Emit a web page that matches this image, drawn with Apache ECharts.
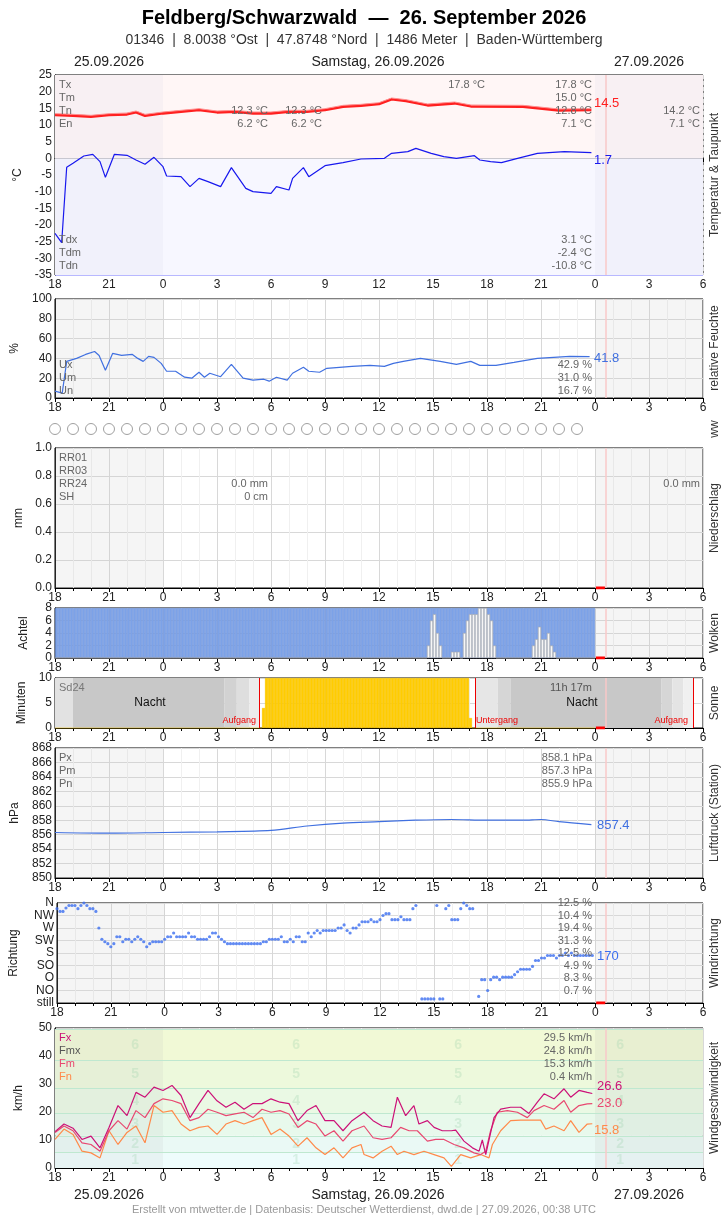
<!DOCTYPE html>
<html><head><meta charset="utf-8">
<script src="https://cdn.jsdelivr.net/npm/echarts@6/dist/echarts.min.js"></script>
<style>html,body{margin:0;padding:0;background:#fff}#c{width:728px;height:1218px}</style>
</head><body><div id="c"></div>
<script>
// ---- data (t = hours since 25.09. 18:00) ----
const hourLabels = ['18','21','0','3','6','9','12','15','18','21','0','3','6'];
const tempT = [[0,13],[1,12.8],[2,12.5],[3,13],[4,13.2],[4.5,13.8],[5,12.8],[6,13.5],[7,14],[8,14.5],[9,13.8],[10,14],[11,13.5],[12,13.5],[13,14],[14,14],[15,14.5],[16,15.5],[17,15.8],[18,16.3],[18.7,17.7],[19.5,17.2],[20.7,15.9],[22.2,16.5],[23.1,15.6],[26,15.5],[28,14.4],[29.8,14.5]];
const dewT = [[0,-22.5],[0.37,-25.3],[0.65,-2.7],[1,-1.5],[1.6,0.7],[2.1,1.2],[2.5,-1],[2.8,-5.7],[3.3,1.2],[4,0.9],[4.5,-0.5],[5,-1.8],[5.5,0.3],[6,-2.5],[6.2,-5.3],[7,-5.5],[7.5,-8.5],[8,-6],[8.5,-7],[9.2,-8.5],[9.8,-2.8],[10.6,-9],[11,-10],[12,-10.5],[12.3,-8.5],[13,-9.5],[13.2,-6],[13.8,-2.8],[14.1,-5.5],[15,-2.2],[16,-1.3],[17,-0.2],[18.3,0],[18.7,1.5],[19.6,2],[20.05,3],[20.9,1.5],[21.6,0.5],[22.3,0],[23.3,0.8],[23.6,-0.5],[24.2,-1],[24.8,-1.3],[25.7,0],[26.8,1.5],[28.3,2],[29.8,1.7]];
const humT = [[0,7],[0.4,5],[0.65,37],[1.2,40],[1.7,44],[2.2,47],[2.45,43],[2.8,28],[3.2,45],[3.7,43],[4.3,44],[4.6,40],[4.9,37],[5.2,42],[5.5,41],[5.9,35],[6.2,27],[6.7,27],[7.2,21],[7.6,20],[8,26],[8.3,21],[8.6,25],[9.2,21.5],[9.8,34],[10.45,20],[11,18],[11.6,19],[11.9,17],[12.3,21],[12.9,18],[13.2,25],[13.8,31],[14.1,27],[14.7,26],[15.1,30],[16.5,32],[17.5,33],[18.3,32],[18.8,35],[19.35,37],[20.3,40],[21.4,37],[22.3,34],[23.1,37],[23.6,33],[24.5,33],[25.5,36],[26.8,40],[28.6,42],[29.7,41.8]];
const presT = [[0,856.3],[3,856.2],[6,856.3],[9,856.4],[12,856.6],[14,857.2],[16,857.6],[18,857.8],[20,858.0],[22,858.1],[24,858.0],[26,858.0],[27,858.1],[28,857.8],[29.8,857.4]];
// clouds: 10-min slots where the white part is below 8 eighths [slot, value]
const cloudWhite = [[124,2],[125,6],[126,7],[127,4],[128,2],[132,1],[133,1],[134,1],[136,4],[137,6],[138,7],[139,7],[140,7],[141,8],[142,8],[143,8],[144,7],[145,6],[146,2],[159,2],[160,3],[161,5],[162,3],[163,3],[164,4],[165,2],[166,1]];
const cloudSlots = 180;
// sunshine minutes per 10-min slot: [firstSlot, count, minutes]
const sunRuns = [[69,1,4],[70,68,10],[138,1,2]];
// wind direction in sectors (N=8, NW=7 ... NO=1, still=0), 10-min slots
const dirVals = [7.55,7.33,7.33,7.6,7.8,7.8,7.8,7.55,7.8,8,7.8,7.55,7.55,7.33,
6,5.1,4.9,4.75,4.5,4.75,5.3,5.3,4.9,5.1,5.1,4.9,5.1,5.3,5.1,4.9,4.5,4.75,4.9,4.9,4.9,4.9,5.1,5.3,5.3,5.6,5.3,5.3,5.3,5.3,5.6,5.3,5.3,5.1,5.1,5.1,5.1,5.3,5.6,5.6,5.3,5.1,4.9,4.75,
4.75,4.75,4.75,4.75,4.75,4.75,4.75,4.75,4.75,4.75,4.75,4.9,4.9,5.1,5.1,5.1,5.1,5.3,4.9,4.9,5.1,4.9,5.3,5.3,4.9,4.9,5.6,5.3,5.6,5.8,5.6,5.8,5.8,5.8,5.8,5.8,6,6,6.25,5.8,5.6,6,6,6.25,6.5,6.5,6.5,6.67,6.5,6.5,6.67,7,7.15,7.15,6.67,6.67,6.67,6.9,6.67,6.67,6.67,7.55,7.8,
null,0.33,0.33,0.33,0.33,0.33,7.8,0.33,0.33,7.55,7.8,6.67,6.67,6.67,7.55,8,7.8,7.55,7.55,null,0.53,1.87,1.87,1.0,1.87,2.07,2.07,1.87,2.07,2.07,2.07,2.07,2.27,2.5,2.7,2.7,2.7,2.7,2.93,3.4,3.4,3.6,3.6,3.8,3.8,3.8,3.6,3.8,3.8,4,3.8,4,3.8,3.8,3.8,3.8,3.8,3.8,3.8];
const dirLabels = ['still','NO','O','SO','S','SW','W','NW','N'];
const fxT = [[0,13],[0.5,15.7],[1,14.2],[1.5,10.2],[2,11.4],[2.5,7.2],[3,14.5],[3.5,22.3],[4,18.7],[4.5,27],[5,25.3],[5.5,28.9],[6,27.7],[6.5,29.5],[7,25.9],[7.5,18],[8,23],[8.5,27.7],[9,24],[9.5,21.7],[10,23.5],[10.5,21],[11,23],[11.5,23],[12,24.7],[12.5,23.5],[13,23],[13.5,16.9],[14,20.5],[14.5,22.3],[15,16.9],[15.5,16.9],[16,13.3],[16.5,16.9],[17.17,19.9],[17.67,16.9],[18.17,15],[18.67,14.5],[19.02,25.3],[19.48,18.7],[19.94,22.3],[20.22,15.7],[20.69,16.9],[21.06,14.5],[21.52,13.3],[22.02,13.3],[22.26,13.5],[22.72,9.6],[23.19,7.2],[23.56,6],[23.74,10],[23.93,4.8],[24.11,10],[24.39,18],[24.76,21],[25.31,21.7],[25.87,21.7],[26.33,19.5],[26.8,23.5],[27.17,26.5],[27.72,24.7],[28.28,28.3],[28.65,25.3],[29.11,27.7],[29.57,27],[29.85,26.6]];
const fmT = [[0,12.7],[0.5,15],[1,13.3],[1.5,9],[2,8.4],[2.5,6],[3,13.3],[3.5,16.9],[4,13.9],[4.5,20.5],[5,18],[5.5,23],[6,24.7],[6.5,24.1],[7,23],[7.5,16.9],[8,18],[8.5,21],[9,19.9],[9.5,18.7],[10,19.3],[10.5,19.9],[11,18],[11.5,21],[12,19.9],[12.5,20.5],[13,19.3],[13.5,14.5],[14,16.9],[14.5,15.7],[15,11.4],[15.5,13.3],[16,9.6],[16.5,13.3],[17.17,15],[17.67,10.8],[18.17,10.2],[18.67,10.8],[19.2,14.5],[19.67,13.3],[20.13,13.3],[20.69,9.6],[21.15,10.2],[21.61,10.2],[22.17,8.4],[22.72,7.2],[23.28,5.4],[23.65,4.8],[23.93,6],[24.2,13.3],[24.57,19.9],[25.13,20.5],[25.69,19.9],[26.24,18],[26.61,20.5],[27.17,22.3],[27.72,21],[28.28,24.1],[28.65,19.9],[29.11,22.3],[29.57,22.9],[29.85,23]];
const fnT = [[0,10.2],[0.5,13.9],[1,12],[1.5,6],[2,5.4],[2.5,3.6],[3,13.3],[3.5,8.4],[4,12.7],[4.5,15],[5,9],[5.5,22.3],[6,19.9],[6.5,20.5],[7,15.7],[7.5,13.3],[8,14.5],[8.5,15],[9,12],[9.5,15.7],[10,16.9],[10.5,15.7],[11,16.9],[11.5,18],[12,12],[12.5,13.9],[13,11.4],[13.5,7.8],[14,10.8],[14.5,7.2],[15,4.8],[15.5,7.2],[16,3.6],[16.5,7.2],[17,8.4],[17.17,4.8],[17.67,3.6],[18.17,6],[18.67,7.8],[19.02,4.8],[19.39,6],[19.94,4.8],[20.5,6],[21.06,4.8],[21.61,3.6],[22.02,0.6],[22.54,4.8],[23.09,3.6],[23.65,4.8],[24.11,3.6],[24.3,8.4],[24.76,13.3],[25.31,16.9],[25.87,17.1],[26.43,17.1],[26.98,17.1],[27.26,13.9],[27.72,15],[28.28,13.3],[28.65,16.9],[29.11,12.7],[29.57,15.7],[29.85,15.8]];
const bftEdges = [0,5.5,11.5,19.5,28.5,38.5,49.5];
const bftLabelT = [4.45,13.4,22.4,31.4];
const wwT = [0,1,2,3,4,5,6,7,8,9,10,11,12,13,14,15,16,17,18,19,20,21,22,23,24,25,26,27,28,29];

// ---- build ----
const FONT = 'Liberation Sans, Arial, sans-serif';
const L=55, W=648;
const grids = [[75,200],[299,99],[422,14],[448,140],[608,50],[678,50],[748,130],[903,100],[1028,140]];
const grid = grids.map(g=>({left:L,width:W,top:g[0],height:g[1],show:true,borderColor:'#000',borderWidth:1,backgroundColor:'#fff'}));
grid[2].show=false;
const xAxis = grids.map((g,i)=>({type:'value',gridIndex:i,min:0,max:36,interval:3,show:i!==2,
  axisLabel:{formatter:v=>hourLabels[v/3],color:'#222',fontSize:12,fontFamily:FONT,margin:4},
  axisTick:{show:true,length:4,lineStyle:{color:'#000'}},minorTick:{show:true,splitNumber:3,length:3,lineStyle:{color:'#000'}},
  axisLine:{lineStyle:{color:'#000'}},
  splitLine:{show:true,lineStyle:{color:'#d8d8d8',type:i===0?'dashed':'solid'}},
  minorSplitLine:{show:i!==0,lineStyle:{color:'#f0f0f0'}}}));
function yA(i,min,max,interval,name,gap,fmt,extra){
  return Object.assign({type:'value',gridIndex:i,min,max,interval,name,nameLocation:'middle',nameRotate:90,nameGap:gap,
   nameTextStyle:{fontSize:12,color:'#222',fontFamily:FONT},
   axisLabel:{color:'#222',fontSize:12,fontFamily:FONT,margin:3,formatter:fmt||undefined},
   axisLine:{show:true,lineStyle:{color:'#000'}},axisTick:{show:false},
   splitLine:{lineStyle:{color:'#d8d8d8'}}},extra||{});
}
const tempSplitColors=[]; for(let v=-35;v<=25;v+=5) tempSplitColors.push(v<0?'#b8b8ff':(v===0?'#8888ff':'#ffb8b8'));
const yAxis=[
 yA(0,-35,25,5,'°C',28,null,{splitLine:{lineStyle:{color:tempSplitColors}},minorSplitLine:{show:true,lineStyle:{color:'#efe4f0'}},minorTick:{show:false,splitNumber:5}}),
 yA(1,0,100,20,'%',28),
 {type:'value',gridIndex:2,min:-1,max:1,show:false},
 yA(3,0,1,0.2,'mm',30,v=>v.toFixed(1)),
 yA(4,0,8,2,'Achtel',25),
 yA(5,0,10,5,'Minuten',25),
 yA(6,850,868,2,'hPa',34),
 yA(7,0,8,1,'Richtung',37,v=>dirLabels[v],{splitLine:{lineStyle:{color:'#dcdcdc'}}}),
 yA(8,0,50,10,'km/h',30)
];
const grayAreas=[[{xAxis:0,itemStyle:{color:'rgba(200,200,200,0.18)'}},{xAxis:6}],[{xAxis:30,itemStyle:{color:'rgba(200,200,200,0.18)'}},{xAxis:36}]];
const grayAreasLight=[[{xAxis:0,itemStyle:{color:'rgba(200,200,220,0.12)'}},{xAxis:6}],[{xAxis:30,itemStyle:{color:'rgba(200,200,220,0.12)'}},{xAxis:36}]];
const pinkLine={silent:true,symbol:'none',label:{show:false},lineStyle:{color:'#f8c8c8',width:1.5,type:'solid'},data:[{xAxis:30.6}]};
const series=[];
function line(i,data,color,w,extra){series.push(Object.assign({type:'line',xAxisIndex:i,yAxisIndex:i,data,symbol:'none',lineStyle:{color,width:w},z:5},extra||{}));}
// temperature
line(0,tempT,'#ff2020',2.6,{markArea:{silent:true,data:[[{yAxis:0,itemStyle:{color:'#fff6f6'}},{yAxis:25}],[{yAxis:-35,itemStyle:{color:'#f7f7ff'}},{yAxis:0}]].concat(grayAreasLight)},markLine:pinkLine});
line(0,tempT.map(p=>[p[0],p[1]+0.4]),'#ff9090',1);
line(0,dewT,'#1818ee',1.2);
line(1,humT,'#4070e0',1.2,{markArea:{silent:true,data:grayAreas},markLine:pinkLine});
series.push({type:'scatter',xAxisIndex:2,yAxisIndex:2,data:wwT.map(t=>[t,0]),symbol:'circle',symbolSize:11,itemStyle:{color:'#fff',borderColor:'#888',borderWidth:1}});
// precipitation (none)
line(3,[[30.05,0],[30.55,0]],'#ff0000',3,{markArea:{silent:true,data:grayAreas},markLine:pinkLine});
// clouds: blue full column, white part drawn over it
const wh=new Array(cloudSlots).fill(0); cloudWhite.forEach(c=>wh[c[0]]=c[1]);
series.push({type:'bar',xAxisIndex:4,yAxisIndex:4,barWidth:3,data:wh.map((v,i)=>[i/6+1/12,8]),itemStyle:{color:'#7ca2e8',borderColor:'#6b8fd6',borderWidth:0.5},markArea:{silent:true,data:[grayAreas[1]]},markLine:pinkLine});
series.push({type:'bar',xAxisIndex:4,yAxisIndex:4,barWidth:3,barGap:'-100%',data:wh.map((v,i)=>[i/6+1/12,v]),itemStyle:{color:'#f6f6f6',borderColor:'#a8a8a8',borderWidth:0.6},z:3});
line(4,[[30.05,0],[30.55,0]],'#ff0000',3);
// sun
const sun=new Array(cloudSlots).fill(0); sunRuns.forEach(r=>{for(let k=0;k<r[1];k++)sun[r[0]+k]=r[2];});
const nightAreas=[[0,1,'#e2e2e2'],[1,9.4,'#c8c8c8'],[9.4,10.1,'#d2d2d2'],[10.1,10.8,'#dedede'],[10.8,11.36,'#ececec'],
 [23.37,24.6,'#e6e6e6'],[24.6,25.3,'#d6d6d6'],[25.3,33.7,'#c8c8c8'],[33.7,34.3,'#d6d6d6'],[34.3,34.9,'#e4e4e4'],[34.9,35.45,'#f0f0f0']];
const red={color:'#ee0000',width:1,type:'solid'};
series.push({type:'bar',xAxisIndex:5,yAxisIndex:5,barWidth:3,data:sun.map((v,i)=>[i/6+1/12,v]),itemStyle:{color:'#ffcc00',borderColor:'#f0c000',borderWidth:0.3},z:4,
 markArea:{silent:true,data:nightAreas.map(a=>[{xAxis:a[0],itemStyle:{color:a[2]}},{xAxis:a[1]}])},
 markLine:{silent:true,symbol:'none',label:{show:false},lineStyle:red,data:[{xAxis:11.36,lineStyle:red},{xAxis:23.37,lineStyle:red},{xAxis:35.45,lineStyle:red},{xAxis:30.6,lineStyle:{color:'#f8c8c8',width:1.5,type:'solid'}}]}});
line(5,[[30.05,0],[30.55,0]],'#ff0000',3);
// pressure
line(6,presT,'#4070e0',1.2,{smooth:0.3,markArea:{silent:true,data:grayAreas},markLine:pinkLine});
// wind direction
series.push({type:'scatter',xAxisIndex:7,yAxisIndex:7,data:dirVals.map((v,i)=>[i/6,v]).filter(p=>p[1]!==null),symbolSize:3.2,itemStyle:{color:'#3b6ef0'},markArea:{silent:true,data:grayAreas},markLine:pinkLine});
line(7,[[30.05,0],[30.55,0]],'#ff0000',3);
// wind speed
const bftColors=['#eefcfc','#eaf9f5','#e8f9ec','#eaf9e4','#edf9dc','#f1f9d6'];
series.push({type:'line',xAxisIndex:8,yAxisIndex:8,data:[],markArea:{silent:true,data:bftColors.map((c,k)=>[{yAxis:bftEdges[k],itemStyle:{color:c}},{yAxis:bftEdges[k+1]}]).concat([[{xAxis:30,itemStyle:{color:'rgba(180,180,180,0.15)'}},{xAxis:36}],[{xAxis:0,itemStyle:{color:'rgba(180,180,180,0.12)'}},{xAxis:6}]])},
 markLine:{silent:true,symbol:'none',label:{show:false},data:bftEdges.slice(1).map(v=>({yAxis:v,lineStyle:{color:'#bfe8d0',width:1,type:'solid'}})).concat([{xAxis:30.6,lineStyle:{color:'#f8c8c8',width:1.5,type:'solid'}}])}});
const bftPts=[]; bftLabelT.forEach(t=>[1,2,3,4,5,6].forEach(n=>bftPts.push([t,(bftEdges[n-1]+bftEdges[n])/2,n])));
series.push({type:'scatter',xAxisIndex:8,yAxisIndex:8,data:bftPts,symbolSize:0,z:2,label:{show:true,formatter:p=>p.data[2],fontSize:14,fontWeight:'bold',fontFamily:FONT,color:'rgba(150,210,170,0.35)',position:'inside'}});
line(8,fnT,'#ff8a4a',1.2);
line(8,fmT,'#e84870',1.2);
line(8,fxT,'#cc1177',1.2);

// texts
const T=[];
function tx(x,y,s,o){T.push(Object.assign({type:'text',x,y,style:Object.assign({text:s,fontSize:11,fill:'#666',fontFamily:FONT,textVerticalAlign:'middle'},o||{}),z:50}));}
function tr(x,y,s,o){tx(x,y,s,Object.assign({textAlign:'right'},o||{}));}
tx(364,18,'Feldberg/Schwarzwald  —  26. September 2026',{fontSize:20,fontWeight:'bold',fill:'#000',textAlign:'center'});
tx(364,40,'01346  |  8.0038 °Ost  |  47.8748 °Nord  |  1486 Meter  |  Baden-Württemberg',{fontSize:14,fill:'#333',textAlign:'center'});
[[62],[1195]].forEach(r=>{const y=r[0];tx(109,y,'25.09.2026',{fontSize:14,fill:'#222',textAlign:'center'});tx(378,y,'Samstag, 26.09.2026',{fontSize:14,fill:'#222',textAlign:'center'});tx(649,y,'27.09.2026',{fontSize:14,fill:'#222',textAlign:'center'});});
tx(364,1210,'Erstellt von mtwetter.de | Datenbasis: Deutscher Wetterdienst, dwd.de | 27.09.2026, 00:38 UTC',{fontSize:11,fill:'#999',textAlign:'center'});
['Tx','Tm','Tn','En'].forEach((s,k)=>tx(59,85+13*k,s));
tr(485,85,'17.8 °C');tr(592,85,'17.8 °C');tr(592,98,'15.0 °C');tr(592,111,'12.8 °C');tr(592,124,'7.1 °C');
tr(268,111,'12.3 °C');tr(268,124,'6.2 °C');tr(322,111,'12.3 °C');tr(322,124,'6.2 °C');tr(700,111,'14.2 °C');tr(700,124,'7.1 °C');
['Tdx','Tdm','Tdn'].forEach((s,k)=>tx(59,240+13*k,s));
tr(592,240,'3.1 °C');tr(592,253,'-2.4 °C');tr(592,266,'-10.8 °C');
tx(594,103,'14.5',{fontSize:13,fill:'#ff2020'});tx(594,160,'1.7',{fontSize:13,fill:'#1818ee'});
['Ux','Um','Un'].forEach((s,k)=>tx(59,365+13*k,s));
tr(592,365,'42.9 %');tr(592,378,'31.0 %');tr(592,391,'16.7 %');
tx(594,358,'41.8',{fontSize:13,fill:'#4070e0'});
['RR01','RR03','RR24','SH'].forEach((s,k)=>tx(59,458+13*k,s));
tr(268,484,'0.0 mm');tr(268,497,'0 cm');tr(700,484,'0.0 mm');
tx(59,688,'Sd24',{fontSize:11,fill:'#777'});tx(150,703,'Nacht',{fontSize:12,fill:'#111',textAlign:'center'});tx(582,703,'Nacht',{fontSize:12,fill:'#111',textAlign:'center'});
tr(592,688,'11h 17m',{fill:'#555'});
tr(256,721,'Aufgang',{fontSize:9,fill:'#ee0000'});tx(476,721,'Untergang',{fontSize:9,fill:'#ee0000'});tr(688,721,'Aufgang',{fontSize:9,fill:'#ee0000'});
['Px','Pm','Pn'].forEach((s,k)=>tx(59,758+13*k,s));
tr(592,758,'858.1 hPa');tr(592,771,'857.3 hPa');tr(592,784,'855.9 hPa');
tx(597,825,'857.4',{fontSize:13,fill:'#4070e0'});
['12.5 %','10.4 %','19.4 %','31.3 %','12.5 %','4.9 %','8.3 %','0.7 %'].forEach((s,k)=>tr(592,903+12.5*k,s));
tx(597,956,'170',{fontSize:13,fill:'#3b6ef0'});
[['Fx','#cc1177'],['Fmx','#555'],['Fm','#e84870'],['Fn','#ff8a4a']].forEach((s,k)=>tx(59,1038+13*k,s[0],{fill:s[1]}));
['29.5 km/h','24.8 km/h','15.3 km/h','0.4 km/h'].forEach((s,k)=>tr(592,1038+13*k,s));
tx(597,1086,'26.6',{fontSize:13,fill:'#cc1177'});tx(597,1103,'23.0',{fontSize:13,fill:'#e84870'});tx(594,1130,'15.8',{fontSize:13,fill:'#ff8a4a'});
[['Temperatur & Taupunkt',175],['relative Feuchte',348],['ww',429],['Niederschlag',518],['Wolken',633],['Sonne',703],['Luftdruck (Station)',813],['Windrichtung',953],['Windgeschwindigkeit',1098]].forEach(r=>{
 T.push({type:'text',x:715,y:r[1],rotation:Math.PI/2,style:{text:r[0],fontSize:12,fill:'#333',fontFamily:FONT,textAlign:'center',textVerticalAlign:'middle'},z:50});});

const chart=echarts.init(document.getElementById('c'),null,{renderer:'canvas'});
chart.setOption({animation:false,backgroundColor:'#fff',grid,xAxis,yAxis,series,graphic:T});
</script></body></html>
